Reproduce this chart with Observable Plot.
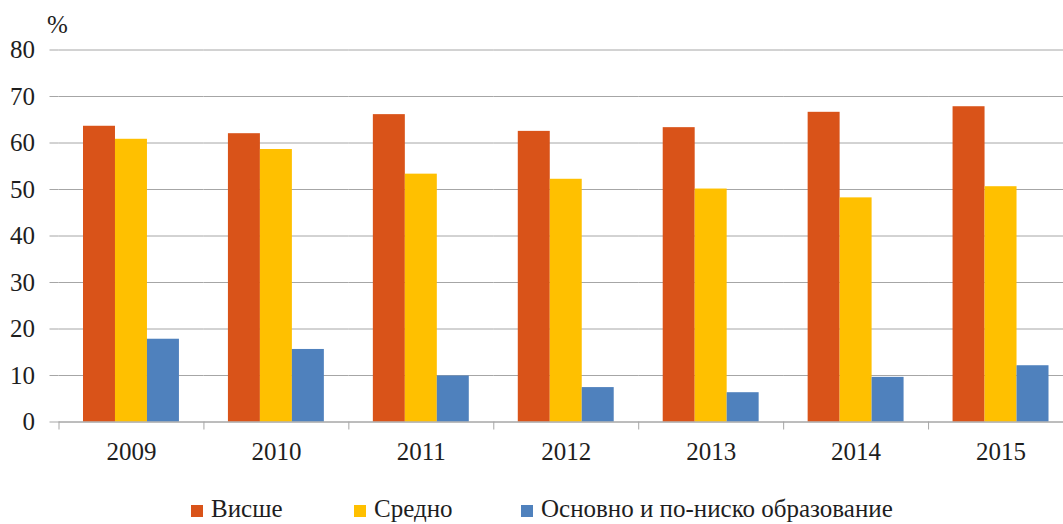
<!DOCTYPE html>
<html>
<head>
<meta charset="utf-8">
<script src="https://cdn.jsdelivr.net/npm/d3@7"></script>
<script src="https://cdn.jsdelivr.net/npm/@observablehq/plot@0.6"></script>
<style>
  html, body { margin: 0; padding: 0; background: #fff; overflow: hidden; }
  #wrap { position: relative; width: 1063px; height: 524px; overflow: hidden; }
  #chart svg { max-width: none !important; }
  #legend { position: absolute; left: 0; top: 496px; width: 1063px; height: 26px;
    font-family: "Liberation Serif", "Tinos", "DejaVu Serif", "Noto Serif", "Times New Roman", Times, serif; font-size: 25px; color: #1e1e1e; }
  .item { position: absolute; top: 0; height: 26px; line-height: 26px; white-space: nowrap; }
  .sw { display: inline-block; width: 12px; height: 12px; margin-right: 8px; vertical-align: 0px; }
</style>
</head>
<body>
<div id="wrap">
  <div id="chart"></div>
  <div id="legend"></div>
</div>
<script>
const years = ["2009", "2010", "2011", "2012", "2013", "2014", "2015"];
const series = ["Висше", "Средно", "Основно и по-ниско образование"];
const vishe = [63.6, 62.0, 66.1, 62.5, 63.3, 66.6, 67.8];
const sredno = [60.8, 58.6, 53.3, 52.2, 50.1, 48.2, 50.6];
const osnovno = [17.8, 15.6, 9.9, 7.4, 6.3, 9.6, 12.1];
const yTicks = [0, 10, 20, 30, 40, 50, 60, 70, 80];
const unitLabel = "%";
const colors = ["#D95319", "#FFC000", "#4F81BD"];

const seriesValues = [vishe, sredno, osnovno];
const data = [];
years.forEach((yr, i) => {
  series.forEach((s, j) => data.push({year: yr, series: s, value: seriesValues[j][i]}));
});

const serif = "'Liberation Serif', Tinos, 'DejaVu Serif', 'Noto Serif', 'Times New Roman', Times, serif";
const gray = "#a6a6a6";
const chart = Plot.plot({
  width: 1073,
  height: 480,
  marginLeft: 58.5,
  marginRight: 0,
  marginTop: 49.5,
  marginBottom: 58.5,
  style: {fontFamily: serif, fontSize: "25px", color: "#1e1e1e", background: "transparent", overflow: "visible"},
  fx: {domain: years, padding: 0, round: false, label: null},
  x: {domain: series, paddingInner: 0, paddingOuter: 0.766, round: false, axis: null},
  y: {domain: [0, 80]},
  color: {domain: series, range: colors},
  marks: [
    Plot.gridY(yTicks, {stroke: gray, strokeOpacity: 1, strokeWidth: 1}),
    Plot.barY(data, {fx: "year", x: "series", y: "value", fill: "series"}),
    Plot.axisY(yTicks, {tickSize: 9, tickPadding: 15, stroke: gray, line: true, label: null, tickFormat: d => d}),
    Plot.text([{fx: years[0], t: unitLabel}], {fx: "fx", text: "t", frameAnchor: "top-left", textAnchor: "start", lineAnchor: "middle", dx: -12, dy: -25, fill: "#1e1e1e"}),
    Plot.axisFx({anchor: "bottom", tickSize: 0, tickPadding: 20, label: null}),
    Plot.frame({anchor: "left", insetTop: 372, insetBottom: -7, stroke: gray}),
    Plot.ruleY([0], {stroke: gray})
  ]
});
document.getElementById("chart").appendChild(chart);

const legend = document.getElementById("legend");
const lx = [191, 354, 521];
series.forEach((s, j) => {
  const item = document.createElement("div");
  item.className = "item";
  item.style.left = lx[j] + "px";
  const sw = document.createElement("span");
  sw.className = "sw";
  sw.style.background = colors[j];
  item.appendChild(sw);
  item.appendChild(document.createTextNode(s));
  legend.appendChild(item);
});
</script>
</body>
</html>
